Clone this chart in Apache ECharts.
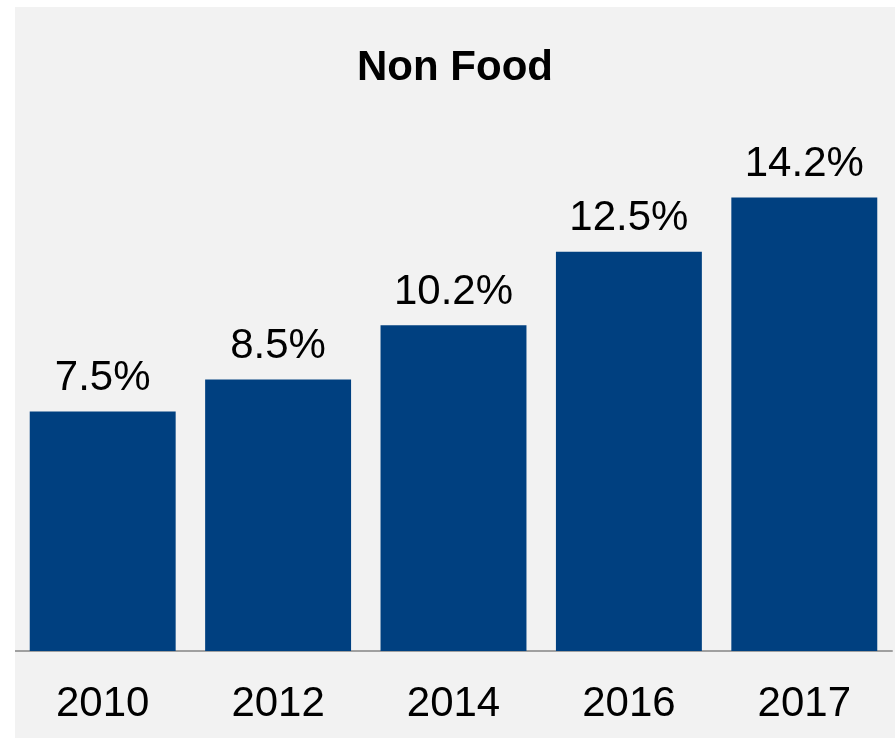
<!DOCTYPE html>
<html>
<head>
<meta charset="utf-8">
<script src="https://cdn.jsdelivr.net/npm/echarts@6/dist/echarts.min.js"></script>
<style>
  html, body { margin: 0; padding: 0; background: #ffffff; width: 895px; height: 738px; overflow: hidden; }
  #panel { position: absolute; left: 15px; top: 7px; width: 880px; height: 731px; background: #f2f2f2; }
  #chart { width: 880px; height: 731px; }
</style>
</head>
<body>
<div id="panel"><div id="chart"></div></div>
<script>
const title = 'Non Food';
const categories = ['2010', '2012', '2014', '2016', '2017'];
const values = [7.5, 8.5, 10.2, 12.5, 14.2];

const chart = echarts.init(document.getElementById('chart'), null, { renderer: 'canvas' });
chart.setOption({
  backgroundColor: '#f2f2f2',
  animation: false,
  textStyle: { fontFamily: 'Liberation Sans, Arial, sans-serif' },
  title: {
    text: title,
    left: 'center',
    top: 35,
    textStyle: { fontSize: 42, fontWeight: 'bold', color: '#000000', fontFamily: 'Liberation Sans, Arial, sans-serif' }
  },
  grid: { left: 0, right: 3, top: 133, bottom: 87, containLabel: false },
  xAxis: {
    type: 'category',
    data: categories,
    axisLine: { show: true, lineStyle: { color: '#a0a0a0', width: 2 } },
    axisTick: { show: false },
    axisLabel: { color: '#000000', fontSize: 42, margin: 32, fontFamily: 'Liberation Sans, Arial, sans-serif' }
  },
  yAxis: {
    type: 'value',
    min: 0,
    max: 16,
    show: false,
    splitLine: { show: false }
  },
  series: [{
    type: 'bar',
    data: values,
    barCategoryGap: '16.8%',
    itemStyle: { color: '#004080' },
    label: {
      show: true,
      position: 'top',
      distance: 12,
      color: '#000000',
      fontSize: 42,
      fontFamily: 'Liberation Sans, Arial, sans-serif',
      formatter: p => p.value.toFixed(1) + '%'
    }
  }]
});
</script>
</body>
</html>
